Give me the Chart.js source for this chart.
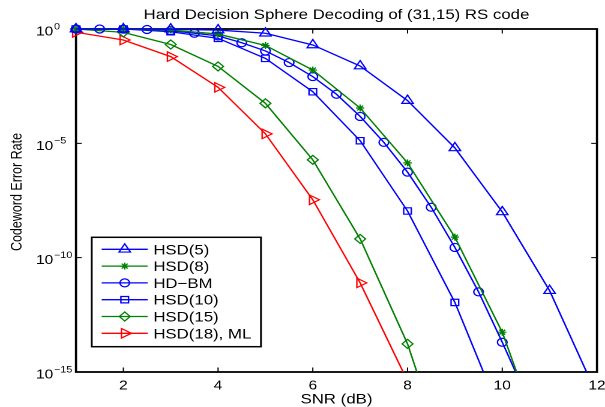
<!DOCTYPE html>
<html>
<head>
<meta charset="utf-8">
<script src="https://cdn.jsdelivr.net/npm/chart.js@4.4.1/dist/chart.umd.min.js"></script>
<style>
  html, body { margin: 0; padding: 0; background: #fff; overflow: hidden; }
  /* the reference figure is stretched horizontally, so draw narrow and stretch */
  #wrap { width: 504px; height: 407px; transform: scaleX(1.2004); transform-origin: 0 0; }
</style>
</head>
<body>
<div id="wrap"><canvas id="c" width="504" height="407"></canvas></div>
<script>
// SNR points (dB)
const snr = [1, 2, 3, 4, 5, 6, 7, 8, 9, 10, 11, 12];
const snrBm = [1, 1.5, 2, 2.5, 3, 3.5, 4, 4.5, 5, 5.5, 6, 6.5, 7, 7.5, 8, 8.5, 9, 9.5, 10, 10.5];

// codeword error rate
const hsd5  = [1.0, 1.0, 0.98, 0.9, 0.65, 0.2, 2.4e-2, 7.4e-4, 6.3e-6, 1.0e-8, 3.6e-12, 1e-16];
const hsd8  = [1.0, 1.0, 0.9, 0.6, 0.19, 1.6e-2, 3.5e-4, 1.4e-6, 7.9e-10, 5.5e-14, 1e-19];
const hdbm  = [1.0, 1.0, 0.98, 0.95, 0.85, 0.65, 0.5, 0.25, 0.11, 3.4e-2, 8.3e-3, 1.4e-3,
               1.5e-4, 1.1e-5, 5.5e-7, 1.6e-8, 2.8e-10, 3.2e-12, 2.0e-14, 1e-16];
const hsd10 = [1.0, 1.0, 0.76, 0.39, 5.2e-2, 1.8e-3, 1.3e-5, 1.1e-8, 1.1e-12, 1e-17];
const hsd15 = [1.0, 0.71, 0.21, 2.3e-2, 5.6e-4, 1.9e-6, 6.6e-10, 1.7e-14, 1e-20];
const hsd18 = [0.72, 0.33, 6.2e-2, 2.8e-3, 2.6e-5, 3.4e-8, 7.9e-12, 4e-16];

const xTicks = [2, 4, 6, 8, 10, 12];
const yTickExp = [0, -5, -10, -15];

const FONT = '"Liberation Sans", Arial, Helvetica, sans-serif';
const BLUE = '#0000ff', GREEN = '#008000', RED = '#ff0000';

function pts(xs, ys) {
  return ys.map((v, i) => ({ x: xs[i], y: v }));
}

function series(label, xs, ys, color, style, radius, rotation) {
  return {
    label: label,
    data: pts(xs, ys),
    borderColor: color,
    backgroundColor: 'rgba(0,0,0,0)',
    borderWidth: 1.3,
    pointStyle: style,
    pointRadius: radius,
    pointHoverRadius: radius,
    pointRotation: rotation || 0,
    pointBorderColor: color,
    pointBackgroundColor: 'rgba(0,0,0,0)',
    pointBorderWidth: 1.2,
    tension: 0,
    clip: { left: 10, top: 10, right: 0, bottom: 0 }
  };
}

const datasets = [
  series('HSD(5)', snr, hsd5, BLUE, 'triangle', 5.5),
  series('HSD(8)', snr, hsd8, GREEN, 'star', 3.5),
  series('HD\u2212BM', snrBm, hdbm, BLUE, 'circle', 4),
  series('HSD(10)', snr, hsd10, BLUE, 'rect', 4.5),
  series('HSD(15)', snr, hsd15, GREEN, 'rectRot', 4.5),
  series('HSD(18), ML', snr, hsd18, RED, 'triangle', 5.5, 90)
];

function text(ctx, str, x, y, size, align) {
  ctx.font = size + 'px ' + FONT;
  ctx.textAlign = align || 'left';
  ctx.textBaseline = 'alphabetic';
  ctx.fillText(str, x, y);
}

const matlabAxes = {
  id: 'matlabAxes',
  beforeDatasetsDraw(chart) {
    const ctx = chart.ctx, a = chart.chartArea;
    const x = chart.scales.x, y = chart.scales.y;
    ctx.save();
    ctx.strokeStyle = '#000';
    ctx.fillStyle = '#000';
    ctx.lineWidth = 1.8;
    ctx.strokeRect(a.left, a.top, a.right - a.left, a.bottom - a.top);

    // inward ticks on all four sides
    ctx.lineWidth = 1;
    ctx.beginPath();
    xTicks.forEach(v => {
      const px = x.getPixelForValue(v);
      ctx.moveTo(px, a.bottom); ctx.lineTo(px, a.bottom - 4.5);
      ctx.moveTo(px, a.top); ctx.lineTo(px, a.top + 4.5);
    });
    yTickExp.forEach(e => {
      const py = y.getPixelForValue(Math.pow(10, e));
      ctx.moveTo(a.left, py); ctx.lineTo(a.left + 4.7, py);
      ctx.moveTo(a.right, py); ctx.lineTo(a.right - 4.7, py);
    });
    ctx.stroke();

    // tick labels
    xTicks.forEach(v => {
      text(ctx, String(v), x.getPixelForValue(v), 389.5, 13, 'center');
    });
    yTickExp.forEach(e => {
      const py = y.getPixelForValue(Math.pow(10, e));
      text(ctx, '10', 44.4, py + 6.5, 13, 'right');
      const exp = e === 0 ? '0' : '\u2212' + Math.abs(e);
      text(ctx, exp, 45, py + 0.3, 9, 'left');
    });

    // axis titles and chart title
    text(ctx, 'SNR (dB)', (a.left + a.right) / 2, 403.5, 14, 'center');
    text(ctx, 'Hard Decision Sphere Decoding of (31,15) RS code', (a.left + a.right) / 2, 19, 14, 'center');
    ctx.save();
    ctx.translate(18, 192);
    ctx.rotate(-Math.PI / 2);
    text(ctx, 'Codeword Error Rate', 0, 0, 12.5, 'center');
    ctx.restore();
    ctx.restore();
  },
  afterDraw(chart) {
    const ctx = chart.ctx;
    const bx = 76.4, by = 237.3, bw = 141, bh = 109.4;
    ctx.save();
    ctx.fillStyle = '#fff';
    ctx.fillRect(bx, by, bw, bh);
    ctx.strokeStyle = '#000';
    ctx.lineWidth = 1.5;
    ctx.strokeRect(bx, by, bw, bh);
    chart.data.datasets.forEach((ds, i) => {
      const ly = 249.3 + i * 16.8;
      ctx.strokeStyle = ds.borderColor;
      ctx.lineWidth = ds.borderWidth;
      ctx.beginPath();
      ctx.moveTo(84.7, ly); ctx.lineTo(123, ly);
      ctx.stroke();
      ctx.fillStyle = 'rgba(0,0,0,0)';
      ctx.lineWidth = ds.pointBorderWidth;
      Chart.helpers.drawPoint(ctx, {
        pointStyle: ds.pointStyle,
        rotation: ds.pointRotation,
        radius: ds.pointRadius,
        borderWidth: ds.pointBorderWidth
      }, 103.9, ly);
      ctx.fillStyle = '#000';
      text(ctx, ds.label, 127.7, ly + 5, 14, 'left');
    });
    ctx.restore();
  }
};

new Chart(document.getElementById('c'), {
  type: 'line',
  data: { datasets: datasets },
  plugins: [matlabAxes],
  options: {
    responsive: false,
    animation: false,
    devicePixelRatio: 2,
    layout: { padding: { left: 0, right: 6.7, top: 29, bottom: 0 } },
    plugins: { legend: { display: false }, tooltip: { enabled: false }, title: { display: false } },
    scales: {
      x: {
        type: 'linear',
        min: 1,
        max: 12,
        grid: { display: false },
        border: { display: false },
        ticks: { display: false },
        afterFit: s => { s.height = 35; }
      },
      y: {
        type: 'logarithmic',
        min: 1e-15,
        max: 1,
        grid: { display: false },
        border: { display: false },
        ticks: { display: false },
        afterFit: s => { s.width = 63.3; }
      }
    }
  }
});
</script>
</body>
</html>
